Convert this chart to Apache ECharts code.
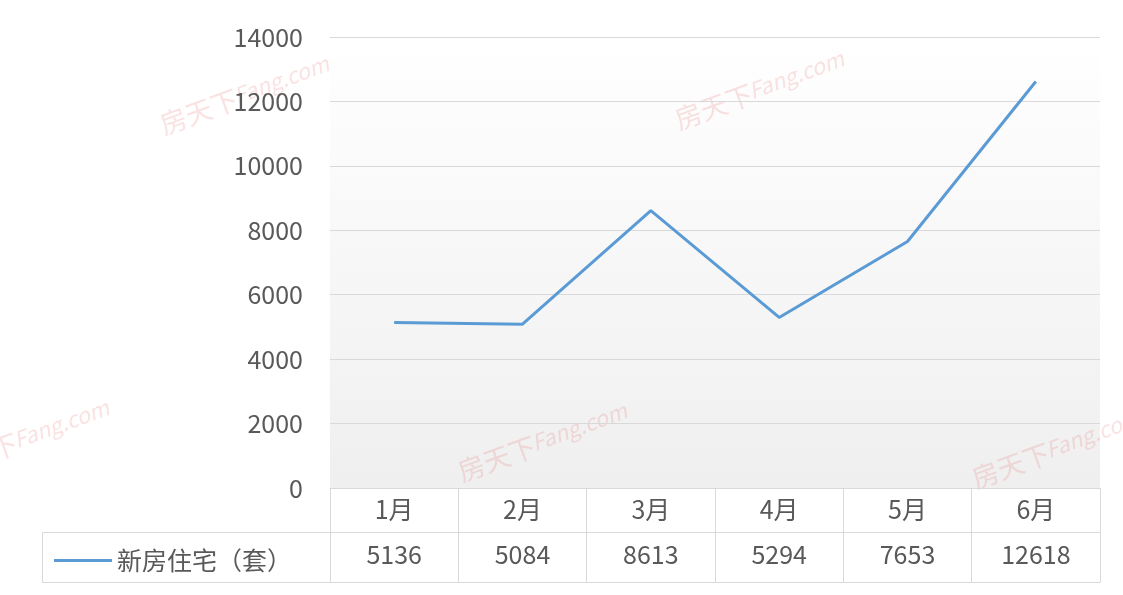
<!DOCTYPE html>
<html>
<head>
<meta charset="utf-8">
<script src="https://cdn.jsdelivr.net/npm/echarts@6/dist/echarts.min.js"></script>
<style>
html,body{margin:0;padding:0;background:#fff;}
#main{width:1123px;height:595px;}
</style>
</head>
<body>
<div id="main"></div>
<script>
const categories = ['1月', '2月', '3月', '4月', '5月', '6月'];
const seriesName = '新房住宅（套）';
const values = [5136, 5084, 8613, 5294, 7653, 12618];
const yTicks = [0, 2000, 4000, 6000, 8000, 10000, 12000, 14000];
const watermarkText = ['房天下', 'Fang.com'];

const FONT = "'Noto Sans CJK SC', 'Liberation Sans', sans-serif";
const TXT = '#595959';
const LINE = '#d9d9d9';
const FS = 25;
const GL = 330, GR = 23, GT = 37, GB = 107;

const chart = echarts.init(document.getElementById('main'), null, {renderer: 'canvas'});

function watermark(cx, cy) {
  return {
    type: 'group', x: cx, y: cy, rotation: 20 * Math.PI / 180, z: 100, silent: true,
    children: [
      {type: 'text', x: -95, y: 0, style: {text: watermarkText[0], font: '27px ' + FONT, fill: 'rgba(232,110,110,0.2)', textVerticalAlign: 'middle'}},
      {type: 'text', x: -16, y: -2, style: {text: watermarkText[1], font: 'italic 22px ' + FONT, fill: 'rgba(232,110,110,0.2)', textVerticalAlign: 'middle'}}
    ]
  };
}

const option = {
  backgroundColor: '#ffffff',
  animation: false,
  textStyle: {fontFamily: FONT},
  grid: {
    left: GL, right: GR, top: GT, bottom: GB, show: true, borderWidth: 0,
    backgroundColor: new echarts.graphic.LinearGradient(0, 0, 0, 1, [
      {offset: 0, color: '#ffffff'}, {offset: 1, color: '#efefef'}
    ])
  },
  legend: {
    show: true, left: 49, top: 543, icon: 'rect', itemWidth: 58, itemHeight: 3,
    textStyle: {fontSize: FS, color: TXT, fontFamily: FONT},
    data: [seriesName]
  },
  xAxis: [
    {
      type: 'category', data: categories, position: 'bottom', boundaryGap: true,
      axisLine: {show: true, lineStyle: {color: LINE, width: 1}},
      axisTick: {show: true, interval: 0, length: 94, alignWithLabel: false, lineStyle: {color: LINE, width: 1}},
      axisLabel: {margin: 9, fontSize: FS, color: TXT, fontFamily: FONT, interval: 0},
      splitLine: {show: false}
    },
    {
      type: 'category', data: values.map(String), position: 'bottom', offset: 44, boundaryGap: true,
      axisLine: {show: true, lineStyle: {color: LINE, width: 1}},
      axisTick: {show: false},
      axisLabel: {margin: 10, fontSize: FS, color: TXT, fontFamily: FONT, interval: 0},
      splitLine: {show: false}
    },
    {
      type: 'category', data: categories, position: 'bottom', offset: 94, boundaryGap: true,
      axisLine: {show: true, lineStyle: {color: LINE, width: 1}},
      axisTick: {show: false}, axisLabel: {show: false}, splitLine: {show: false}
    }
  ],
  yAxis: {
    type: 'value', min: yTicks[0], max: yTicks[yTicks.length - 1], interval: yTicks[1] - yTicks[0],
    axisLine: {show: false}, axisTick: {show: false},
    axisLabel: {margin: 27, fontSize: FS, color: TXT, fontFamily: FONT, formatter: function (v) { return String(v); }},
    splitLine: {show: true, lineStyle: {color: LINE, width: 1}}
  },
  series: [{
    name: seriesName, type: 'line', xAxisIndex: 0, data: values,
    symbol: 'none', smooth: false,
    lineStyle: {color: '#5b9bd5', width: 3}, itemStyle: {color: '#5b9bd5'}
  }],
  graphic: [
    {type: 'rect', shape: {x: 42.5, y: 532.5, width: GL - 42, height: 50}, style: {fill: 'none', stroke: LINE, lineWidth: 1}, z: 1, silent: true},
    watermark(250, 93),
    watermark(765, 88),
    watermark(30, 437),
    watermark(548, 440),
    watermark(1062, 447)
  ]
};
chart.setOption(option);
</script>
</body>
</html>
